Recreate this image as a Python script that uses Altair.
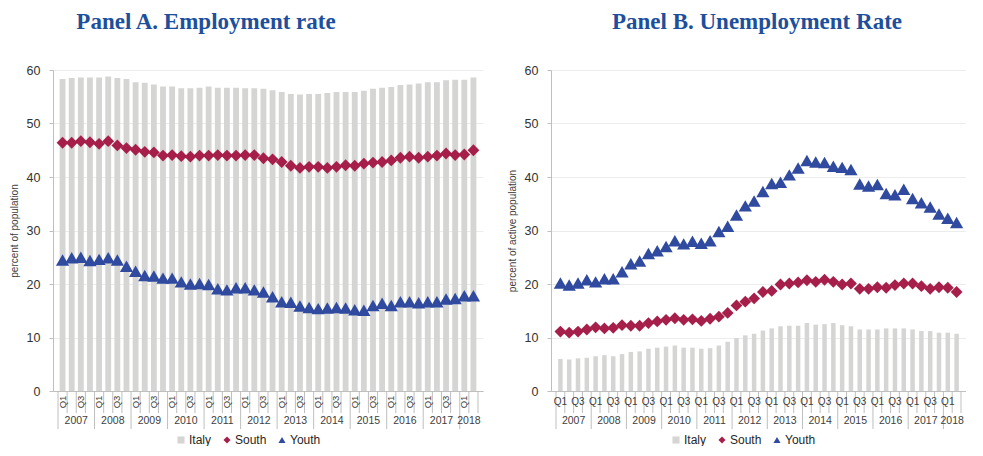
import altair as alt
import pandas as pd

# ---------------- data ----------------
quarter_names = ["Q1", "Q2", "Q3", "Q4"]
quarters = [f"{y} {q}" for y in range(2007, 2018) for q in quarter_names] + ["2018 Q1", "2018 Q2"]
series_names = ["Italy", "South", "Youth"]

# Panel A: employment rate (percent of population)
italy_emp = [58.3, 58.5, 58.6, 58.6, 58.6, 58.8, 58.5, 58.3, 57.7, 57.6,
             57.3, 56.9, 56.9, 56.6, 56.6, 56.7, 56.9, 56.7, 56.7, 56.7,
             56.6, 56.6, 56.5, 56.2, 55.9, 55.5, 55.4, 55.5, 55.5, 55.7,
             55.9, 55.9, 55.9, 56.1, 56.5, 56.7, 56.8, 57.2, 57.3, 57.5,
             57.7, 57.7, 58.1, 58.2, 58.2, 58.6]
south_emp = [46.4, 46.4, 46.7, 46.5, 46.2, 46.7, 45.9, 45.4, 45.1, 44.7,
             44.6, 44.0, 44.1, 43.9, 43.8, 44.0, 44.0, 44.1, 44.0, 44.0,
             44.1, 44.1, 43.5, 43.3, 42.8, 42.1, 41.7, 41.9, 41.9, 41.7,
             41.9, 42.2, 42.1, 42.5, 42.7, 42.8, 43.1, 43.6, 43.8, 43.6,
             43.8, 44.0, 44.4, 44.1, 44.2, 45.0]
youth_emp = [24.5, 24.9, 25.0, 24.4, 24.6, 24.9, 24.5, 23.3, 22.4, 21.6,
             21.5, 21.1, 21.1, 20.4, 20.0, 20.1, 19.9, 19.1, 18.9, 19.3,
             19.3, 18.9, 18.5, 17.6, 16.7, 16.6, 15.9, 15.6, 15.4, 15.5,
             15.6, 15.5, 15.2, 15.1, 16.0, 16.4, 16.0, 16.7, 16.7, 16.5,
             16.7, 16.7, 17.2, 17.3, 17.8, 17.8]

# Panel B: unemployment rate (percent of active population)
italy_unemp = [6.0, 5.9, 6.1, 6.2, 6.5, 6.7, 6.5, 6.9, 7.3, 7.4,
               7.9, 8.1, 8.3, 8.5, 8.1, 8.1, 7.9, 8.0, 8.5, 9.2,
               9.9, 10.4, 10.7, 11.3, 11.7, 12.1, 12.2, 12.2, 12.7, 12.4,
               12.5, 12.7, 12.3, 12.1, 11.5, 11.5, 11.5, 11.7, 11.7, 11.7,
               11.5, 11.2, 11.2, 10.9, 10.9, 10.7]
south_unemp = [11.1, 10.9, 11.1, 11.5, 11.9, 11.7, 11.8, 12.3, 12.2, 12.2,
               12.7, 13.0, 13.3, 13.6, 13.3, 13.4, 13.1, 13.5, 13.9, 14.6,
               16.0, 16.7, 17.3, 18.5, 18.7, 19.9, 20.1, 20.3, 20.7, 20.4,
               20.8, 20.4, 19.9, 20.1, 19.1, 19.1, 19.4, 19.3, 19.8, 20.1,
               20.1, 19.6, 19.1, 19.4, 19.3, 18.5]
youth_unemp = [20.2, 19.8, 20.2, 20.8, 20.4, 21.0, 21.0, 22.3, 23.8, 24.3,
               25.7, 26.2, 27.0, 28.1, 27.5, 28.0, 27.6, 28.1, 29.8, 30.8,
               32.9, 34.6, 35.5, 37.3, 38.8, 39.0, 40.4, 41.7, 43.1, 42.8,
               42.7, 42.0, 41.8, 41.4, 38.7, 38.3, 38.6, 36.9, 36.7, 37.7,
               36.0, 35.2, 34.4, 33.1, 32.3, 31.5]

y_ticks = [0, 10, 20, 30, 40, 50, 60]

# ---------------- style ----------------
GRAY = "#d5d5d3"
RED = "#a61e4a"
BLUE = "#2f4a9f"
TITLE_C = "#1d4f9c"
AX = "#bfbfbf"
TXT = "#404040"
FONT = "Liberation Sans"
H = 321
N = len(quarters)

# ---------------- helper tables ----------------
def long_df(italy, south, youth):
    rows = []
    for i, q in enumerate(quarters):
        for s, v in zip(series_names, (italy[i], south[i], youth[i])):
            rows.append({"i": i, "q": q, "series": s, "value": v})
    return pd.DataFrame(rows)

qlab_df = pd.DataFrame([{"i": i, "lab": q.split(" ")[1]} for i, q in enumerate(quarters)
                        if q.split(" ")[1] in ("Q1", "Q3")])
qlab_df["xc"] = qlab_df["i"] + 0.5

year_list = []
for i, q in enumerate(quarters):
    y = q.split(" ")[0]
    if not year_list or year_list[-1][0] != y:
        year_list.append([y, i, i])
    else:
        year_list[-1][2] = i
year_df = pd.DataFrame([{"year": y, "xc": (a + b + 1) / 2} for y, a, b in year_list])
sep_df = pd.DataFrame([{"b": a} for y, a, b in year_list])
minor_df = pd.DataFrame([{"b": b} for b in range(1, N + 1) if b % 4 != 0])

xscale = alt.Scale(domain=[0, N], nice=False, zero=False)
xaxis = alt.Axis(labels=False, ticks=False, title=None, grid=False,
                 domainColor=AX, domainWidth=1)


def panel(italy, south, youth, title, ytitle, width, title_x, rotate, bar_lo, bar_hi, legend_x):
    df = long_df(italy, south, youth)
    leg = alt.Legend(orient="none", legendX=legend_x, legendY=H + 43, direction="horizontal",
                     title=None, symbolSize=50, labelFontSize=12, labelFont=FONT,
                     labelColor="#262626", columnPadding=9, labelOffset=2,
                     symbolStrokeWidth=0)
    color = alt.Color("series:N", scale=alt.Scale(domain=series_names, range=[GRAY, RED, BLUE]),
                      legend=leg)
    shape = alt.Shape("series:N", scale=alt.Scale(domain=series_names,
                                                  range=["square", "diamond", "triangle-up"]),
                      legend=leg)
    yenc = alt.Y("value:Q", scale=alt.Scale(domain=[0, 60], nice=False),
                 axis=alt.Axis(values=y_ticks, title=ytitle, grid=True, gridColor="#ececec",
                               tickSize=4, tickColor=AX, domainColor=AX,
                               labelFontSize=12.5, labelFont=FONT, labelColor="#333333",
                               labelPadding=9, titleFontSize=10, titleFont=FONT,
                               titleFontWeight="normal", titleColor=TXT, titlePadding=7,
                               minExtent=27, maxExtent=27))

    base = alt.Chart(df)
    bars = base.transform_filter(alt.datum.series == "Italy").transform_calculate(
        x0=f"datum.i + {bar_lo}", x1=f"datum.i + {bar_hi}"
    ).mark_bar(orient="vertical").encode(
        x=alt.X("x0:Q", scale=xscale, axis=xaxis), x2="x1:Q", y=yenc, y2=alt.datum(0),
        color=color, shape=shape
    )
    pts = base.transform_filter(alt.datum.series != "Italy").transform_calculate(
        xc="datum.i + 0.5"
    ).mark_point(filled=True, opacity=1).encode(
        x=alt.X("xc:Q", scale=xscale, axis=xaxis), y=yenc, color=color, shape=shape,
        size=alt.Size("series:N", scale=alt.Scale(domain=["South", "Youth"], range=[140, 175]),
                      legend=None)
    )
    minor = alt.Chart(minor_df).mark_rule(color=AX, strokeWidth=1).encode(
        x=alt.X("b:Q", scale=xscale, axis=xaxis), y=alt.value(H), y2=alt.value(H + 22))
    seps = alt.Chart(sep_df).mark_rule(color=AX, strokeWidth=1).encode(
        x=alt.X("b:Q", scale=xscale, axis=xaxis), y=alt.value(H), y2=alt.value(H + 38))
    if rotate:
        qtext = alt.Chart(qlab_df).mark_text(angle=270, fontSize=9.5, font=FONT, color=TXT,
                                             align="center", baseline="middle")
    else:
        qtext = alt.Chart(qlab_df).mark_text(fontSize=10, font=FONT, color=TXT,
                                             align="center", baseline="middle")
    qtext = qtext.encode(x=alt.X("xc:Q", scale=xscale, axis=xaxis), y=alt.value(H + 11),
                         text="lab:N")
    ytext = alt.Chart(year_df).mark_text(fontSize=10.5, font=FONT, color=TXT,
                                         align="center", baseline="middle").encode(
        x=alt.X("xc:Q", scale=xscale, axis=xaxis), y=alt.value(H + 30), text="year:N")
    ttl = alt.Chart(pd.DataFrame({"t": [title]})).mark_text(
        font="Liberation Serif", fontSize=23, fontWeight="bold", color=TITLE_C,
        align="center", baseline="top").encode(
        x=alt.value(title_x), y=alt.value(-59), text="t:N")
    return alt.layer(bars, pts, minor, seps, qtext, ytext, ttl).properties(width=width, height=H)


pA = panel(italy_emp, south_emp, youth_emp, "Panel A. Employment rate", "percent of population",
           430, 153, True, 0.18, 0.82, 122)
pB = panel(italy_unemp, south_unemp, youth_unemp, "Panel B. Unemployment Rate",
           "percent of active population", 415, 206, False, 0.245, 0.755, 119)

chart = alt.hconcat(pA, pB, spacing=68, bounds="flush").resolve_scale(
    color="independent", shape="independent", size="independent", x="independent", y="independent"
).resolve_legend(color="independent", shape="independent", size="independent").properties(
    padding={"left": 1, "top": 3, "right": 0, "bottom": 0}
).configure_view(stroke=None)

chart.save("out.html", embed_options={"renderer": "svg", "actions": False})
